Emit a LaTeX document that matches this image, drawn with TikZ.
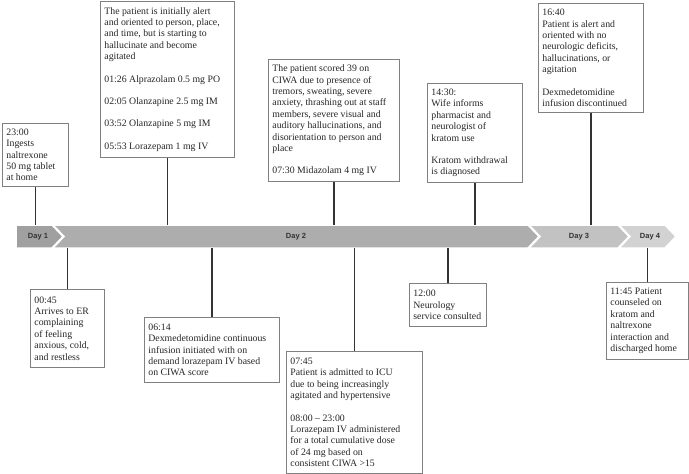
\documentclass[tikz,border=0pt]{standalone}
\usepackage{fontspec}
\setmainfont{Liberation Serif}
\newfontfamily\dayfont{Liberation Sans}
\usetikzlibrary{positioning}

\definecolor{dayone}{HTML}{A0A0A0}
\definecolor{daytwo}{HTML}{ADADAD}
\definecolor{daythree}{HTML}{C2C2C2}
\definecolor{dayfour}{HTML}{D2D2D2}

\begin{document}
\begin{tikzpicture}[x=1pt, y=-1pt,
  evbox/.style={draw=black!50, line width=0.8pt, fill=white, anchor=north west,
    align=flush left, inner xsep=4pt, inner ysep=3pt, text=black!85,
    font=\fontsize{9.8}{11.4}\selectfont},
  stem/.style={draw=black!80, line width=1.2pt},
  daylabel/.style={font=\dayfont\bfseries\fontsize{7.5}{9}\selectfont, text=black!80}]
  \useasboundingbox (0,0) rectangle (689,474);
  % Timeline band: one chevron per day
  \filldraw[fill=dayone, draw=white, line width=1.5pt]
    (16,225) -- (52,225) -- (63,236.5) -- (52,248) -- (16,248) -- cycle;
  \filldraw[fill=daytwo, draw=white, line width=1.5pt]
    (53,225) -- (528,225) -- (539,236.5) -- (528,248) -- (53,248) -- (64,236.5) -- cycle;
  \filldraw[fill=daythree, draw=white, line width=1.5pt]
    (529,225) -- (618,225) -- (629,236.5) -- (618,248) -- (529,248) -- (540,236.5) -- cycle;
  \filldraw[fill=dayfour, draw=white, line width=1.5pt]
    (619,225) -- (665,225) -- (676,236.5) -- (665,248) -- (619,248) -- (630,236.5) -- cycle;
  \node[daylabel] (day1) at (38,236.5) {Day 1};
  \node[daylabel] (day2) at (296,236.5) {Day 2};
  \node[daylabel] (day3) at (579,236.5) {Day 3};
  \node[daylabel] (day4) at (650,236.5) {Day 4};
  \coordinate (bandtop) at (0,225);
  \coordinate (bandbot) at (0,248);
  % Events above the band
  \node[evbox, text width=58pt, minimum height=63pt] (ingest) at (2,123)
    {23:00\\Ingests\\naltrexone\\50 mg tablet\\at home};
  \node[evbox, text width=126pt, minimum height=156pt] (alert) at (100,1)
    {The patient is initially alert\\and oriented to person, place,\\and time, but is starting to\\hallucinate and become\\agitated\\[11pt]
     01:26 Alprazolam 0.5 mg PO\\[11pt]02:05 Olanzapine 2.5 mg IM\\[11pt]03:52 Olanzapine 5 mg IM\\[11pt]05:53 Lorazepam 1 mg IV};
  \node[evbox, text width=123pt, minimum height=122pt] (ciwa) at (268,59)
    {The patient scored 39 on\\CIWA due to presence of\\tremors, sweating, severe\\anxiety, thrashing out at staff\\members, severe visual and\\auditory hallucinations, and\\disorientation to person and\\place\\[11pt]07:30 Midazolam 4 mg IV};
  \node[evbox, text width=87pt, minimum height=99pt] (wife) at (427,83)
    {14:30:\\Wife informs\\pharmacist and\\neurologist of\\kratom use\\[11pt]Kratom withdrawal\\is diagnosed};
  \node[evbox, text width=97pt, minimum height=109pt] (oriented) at (538,3)
    {16:40\\Patient is alert and\\oriented with no\\neurologic deficits,\\hallucinations, or\\agitation\\[11pt]Dexmedetomidine\\infusion discontinued};
  % Events below the band
  \node[evbox, text width=66pt, minimum height=78pt] (arrive) at (30,289)
    {00:45\\Arrives to ER\\complaining\\of feeling\\anxious, cold,\\and restless};
  \node[evbox, text width=127pt, minimum height=65pt] (dexmed) at (144,317)
    {06:14\\Dexmedetomidine continuous\\infusion initiated with on\\demand lorazepam IV based\\on CIWA score};
  \node[evbox, text width=128pt, minimum height=122pt] (icu) at (286,351)
    {07:45\\Patient is admitted to ICU\\due to being increasingly\\agitated and hypertensive\\[11pt]08:00 -- 23:00\\Lorazepam IV administered\\for a total cumulative dose\\of 24 mg based on\\consistent CIWA >15};
  \node[evbox, text width=69pt, minimum height=43pt] (neuro) at (409,283)
    {12:00\\Neurology\\service consulted};
  \node[evbox, text width=74pt, minimum height=77pt] (home) at (606,282)
    {11:45 Patient\\counseled on\\kratom and\\naltrexone\\interaction and\\discharged home};
  % Stems to the band
  \draw[stem] (ingest.south) -- (ingest.south |- bandtop);
  \draw[stem] (alert.south) -- (alert.south |- bandtop);
  \draw[stem] (ciwa.south) -- (ciwa.south |- bandtop);
  \draw[stem] (wife.south) -- (wife.south |- bandtop);
  \draw[stem] (oriented.south) -- (oriented.south |- bandtop);
  \draw[stem] (arrive.north) -- (arrive.north |- bandbot);
  \draw[stem] (dexmed.north) -- (dexmed.north |- bandbot);
  \draw[stem] (icu.north) -- (icu.north |- bandbot);
  \draw[stem] (neuro.north) -- (neuro.north |- bandbot);
  \draw[stem] (home.north) -- (home.north |- bandbot);
\end{tikzpicture}
\end{document}
